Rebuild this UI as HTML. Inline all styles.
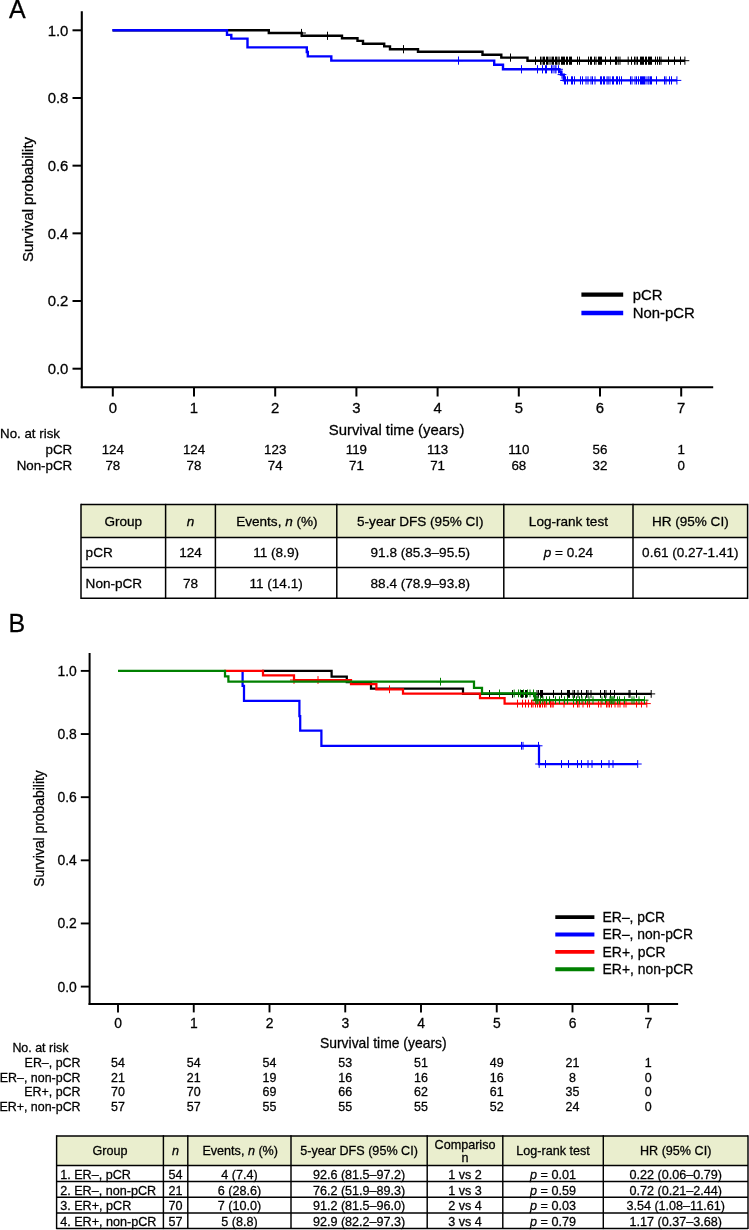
<!DOCTYPE html>
<html><head><meta charset="utf-8"><title>Figure</title>
<style>html,body{margin:0;padding:0;background:#fff}body{width:749px;height:1230px;overflow:hidden;font-family:"Liberation Sans",sans-serif}svg{display:block;will-change:transform}text{stroke:#000;stroke-width:0.28px}</style></head>
<body>
<svg width="749" height="1230" viewBox="0 0 749 1230" font-family="Liberation Sans, sans-serif" fill="#000">
<text x="9.00" y="17.90" font-size="25" text-anchor="start" >A</text>
<line x1="81.80" y1="11.30" x2="81.80" y2="388.25" stroke="#000" stroke-width="2.1" stroke-linecap="butt"/>
<line x1="80.75" y1="387.20" x2="713.20" y2="387.20" stroke="#000" stroke-width="2.1" stroke-linecap="butt"/>
<line x1="72.50" y1="368.70" x2="81.80" y2="368.70" stroke="#000" stroke-width="2.0" stroke-linecap="butt"/>
<text x="68.40" y="374.00" font-size="14.9" text-anchor="end" >0.0</text>
<line x1="72.50" y1="301.02" x2="81.80" y2="301.02" stroke="#000" stroke-width="2.0" stroke-linecap="butt"/>
<text x="68.40" y="306.32" font-size="14.9" text-anchor="end" >0.2</text>
<line x1="72.50" y1="233.34" x2="81.80" y2="233.34" stroke="#000" stroke-width="2.0" stroke-linecap="butt"/>
<text x="68.40" y="238.64" font-size="14.9" text-anchor="end" >0.4</text>
<line x1="72.50" y1="165.66" x2="81.80" y2="165.66" stroke="#000" stroke-width="2.0" stroke-linecap="butt"/>
<text x="68.40" y="170.96" font-size="14.9" text-anchor="end" >0.6</text>
<line x1="72.50" y1="97.98" x2="81.80" y2="97.98" stroke="#000" stroke-width="2.0" stroke-linecap="butt"/>
<text x="68.40" y="103.28" font-size="14.9" text-anchor="end" >0.8</text>
<line x1="72.50" y1="30.30" x2="81.80" y2="30.30" stroke="#000" stroke-width="2.0" stroke-linecap="butt"/>
<text x="68.40" y="35.60" font-size="14.9" text-anchor="end" >1.0</text>
<line x1="112.80" y1="387.20" x2="112.80" y2="396.50" stroke="#000" stroke-width="2.0" stroke-linecap="butt"/>
<text x="112.80" y="413.20" font-size="14.9" text-anchor="middle" >0</text>
<line x1="194.00" y1="387.20" x2="194.00" y2="396.50" stroke="#000" stroke-width="2.0" stroke-linecap="butt"/>
<text x="194.00" y="413.20" font-size="14.9" text-anchor="middle" >1</text>
<line x1="275.20" y1="387.20" x2="275.20" y2="396.50" stroke="#000" stroke-width="2.0" stroke-linecap="butt"/>
<text x="275.20" y="413.20" font-size="14.9" text-anchor="middle" >2</text>
<line x1="356.40" y1="387.20" x2="356.40" y2="396.50" stroke="#000" stroke-width="2.0" stroke-linecap="butt"/>
<text x="356.40" y="413.20" font-size="14.9" text-anchor="middle" >3</text>
<line x1="437.60" y1="387.20" x2="437.60" y2="396.50" stroke="#000" stroke-width="2.0" stroke-linecap="butt"/>
<text x="437.60" y="413.20" font-size="14.9" text-anchor="middle" >4</text>
<line x1="518.80" y1="387.20" x2="518.80" y2="396.50" stroke="#000" stroke-width="2.0" stroke-linecap="butt"/>
<text x="518.80" y="413.20" font-size="14.9" text-anchor="middle" >5</text>
<line x1="600.00" y1="387.20" x2="600.00" y2="396.50" stroke="#000" stroke-width="2.0" stroke-linecap="butt"/>
<text x="600.00" y="413.20" font-size="14.9" text-anchor="middle" >6</text>
<line x1="681.20" y1="387.20" x2="681.20" y2="396.50" stroke="#000" stroke-width="2.0" stroke-linecap="butt"/>
<text x="681.20" y="413.20" font-size="14.9" text-anchor="middle" >7</text>
<text x="396.60" y="434.60" font-size="14.9" text-anchor="middle" >Survival time (years)</text>
<text transform="translate(33.4,199.5) rotate(-90)" font-size="14.9" text-anchor="middle">Survival probability</text>
<text x="0.00" y="437.60" font-size="13.33" text-anchor="start" >No. at risk</text>
<text x="72.20" y="454.20" font-size="13.33" text-anchor="end" >pCR</text>
<text x="72.20" y="470.00" font-size="13.33" text-anchor="end" >Non-pCR</text>
<text x="112.80" y="454.20" font-size="13.33" text-anchor="middle" >124</text>
<text x="112.80" y="470.00" font-size="13.33" text-anchor="middle" >78</text>
<text x="194.00" y="454.20" font-size="13.33" text-anchor="middle" >124</text>
<text x="194.00" y="470.00" font-size="13.33" text-anchor="middle" >78</text>
<text x="275.20" y="454.20" font-size="13.33" text-anchor="middle" >123</text>
<text x="275.20" y="470.00" font-size="13.33" text-anchor="middle" >74</text>
<text x="356.40" y="454.20" font-size="13.33" text-anchor="middle" >119</text>
<text x="356.40" y="470.00" font-size="13.33" text-anchor="middle" >71</text>
<text x="437.60" y="454.20" font-size="13.33" text-anchor="middle" >113</text>
<text x="437.60" y="470.00" font-size="13.33" text-anchor="middle" >71</text>
<text x="518.80" y="454.20" font-size="13.33" text-anchor="middle" >110</text>
<text x="518.80" y="470.00" font-size="13.33" text-anchor="middle" >68</text>
<text x="600.00" y="454.20" font-size="13.33" text-anchor="middle" >56</text>
<text x="600.00" y="470.00" font-size="13.33" text-anchor="middle" >32</text>
<text x="681.20" y="454.20" font-size="13.33" text-anchor="middle" >1</text>
<text x="681.20" y="470.00" font-size="13.33" text-anchor="middle" >0</text>
<path d="M112.50,30.30 H268.80 V33.00 H301.70 V35.80 H342.00 V38.30 H357.50 V40.90 H363.00 V43.70 H384.20 V46.40 H390.00 V49.20 H418.00 V51.80 H482.50 V54.70 H501.30 V57.60 H527.50 V60.70 H684.90" fill="none" stroke="#000" stroke-width="2.4" stroke-linejoin="miter"/>
<path d="M301.50,28.90V37.10M297.10,33.00H305.90" stroke="#000" stroke-width="1.0" fill="none"/>
<path d="M327.50,31.70V39.90M323.10,35.80H331.90" stroke="#000" stroke-width="1.0" fill="none"/>
<path d="M403.50,45.10V53.30M399.10,49.20H407.90" stroke="#000" stroke-width="1.0" fill="none"/>
<path d="M510.50,53.50V61.70M506.10,57.60H514.90" stroke="#000" stroke-width="1.0" fill="none"/>
<path d="M535.50,56.60V64.80M531.10,60.70H539.90" stroke="#000" stroke-width="1.0" fill="none"/>
<path d="M540.50,56.60V64.80M536.10,60.70H544.90" stroke="#000" stroke-width="1.0" fill="none"/>
<path d="M542.00,56.60V64.80M537.60,60.70H546.40" stroke="#000" stroke-width="1.0" fill="none"/>
<path d="M543.50,56.60V64.80M539.10,60.70H547.90" stroke="#000" stroke-width="1.0" fill="none"/>
<path d="M544.50,56.60V64.80M540.10,60.70H548.90" stroke="#000" stroke-width="1.0" fill="none"/>
<path d="M546.50,56.60V64.80M542.10,60.70H550.90" stroke="#000" stroke-width="1.0" fill="none"/>
<path d="M547.50,56.60V64.80M543.10,60.70H551.90" stroke="#000" stroke-width="1.0" fill="none"/>
<path d="M549.00,56.60V64.80M544.60,60.70H553.40" stroke="#000" stroke-width="1.0" fill="none"/>
<path d="M551.00,56.60V64.80M546.60,60.70H555.40" stroke="#000" stroke-width="1.0" fill="none"/>
<path d="M552.50,56.60V64.80M548.10,60.70H556.90" stroke="#000" stroke-width="1.0" fill="none"/>
<path d="M553.50,56.60V64.80M549.10,60.70H557.90" stroke="#000" stroke-width="1.0" fill="none"/>
<path d="M555.50,56.60V64.80M551.10,60.70H559.90" stroke="#000" stroke-width="1.0" fill="none"/>
<path d="M556.50,56.60V64.80M552.10,60.70H560.90" stroke="#000" stroke-width="1.0" fill="none"/>
<path d="M558.00,56.60V64.80M553.60,60.70H562.40" stroke="#000" stroke-width="1.0" fill="none"/>
<path d="M559.20,56.60V64.80M554.80,60.70H563.60" stroke="#000" stroke-width="1.0" fill="none"/>
<path d="M561.50,56.60V64.80M557.10,60.70H565.90" stroke="#000" stroke-width="1.0" fill="none"/>
<path d="M562.50,56.60V64.80M558.10,60.70H566.90" stroke="#000" stroke-width="1.0" fill="none"/>
<path d="M563.50,56.60V64.80M559.10,60.70H567.90" stroke="#000" stroke-width="1.0" fill="none"/>
<path d="M564.50,56.60V64.80M560.10,60.70H568.90" stroke="#000" stroke-width="1.0" fill="none"/>
<path d="M566.50,56.60V64.80M562.10,60.70H570.90" stroke="#000" stroke-width="1.0" fill="none"/>
<path d="M567.50,56.60V64.80M563.10,60.70H571.90" stroke="#000" stroke-width="1.0" fill="none"/>
<path d="M569.50,56.60V64.80M565.10,60.70H573.90" stroke="#000" stroke-width="1.0" fill="none"/>
<path d="M570.50,56.60V64.80M566.10,60.70H574.90" stroke="#000" stroke-width="1.0" fill="none"/>
<path d="M571.50,56.60V64.80M567.10,60.70H575.90" stroke="#000" stroke-width="1.0" fill="none"/>
<path d="M577.50,56.60V64.80M573.10,60.70H581.90" stroke="#000" stroke-width="1.0" fill="none"/>
<path d="M579.50,56.60V64.80M575.10,60.70H583.90" stroke="#000" stroke-width="1.0" fill="none"/>
<path d="M588.50,56.60V64.80M584.10,60.70H592.90" stroke="#000" stroke-width="1.0" fill="none"/>
<path d="M590.50,56.60V64.80M586.10,60.70H594.90" stroke="#000" stroke-width="1.0" fill="none"/>
<path d="M591.50,56.60V64.80M587.10,60.70H595.90" stroke="#000" stroke-width="1.0" fill="none"/>
<path d="M594.50,56.60V64.80M590.10,60.70H598.90" stroke="#000" stroke-width="1.0" fill="none"/>
<path d="M596.00,56.60V64.80M591.60,60.70H600.40" stroke="#000" stroke-width="1.0" fill="none"/>
<path d="M598.50,56.60V64.80M594.10,60.70H602.90" stroke="#000" stroke-width="1.0" fill="none"/>
<path d="M599.50,56.60V64.80M595.10,60.70H603.90" stroke="#000" stroke-width="1.0" fill="none"/>
<path d="M600.50,56.60V64.80M596.10,60.70H604.90" stroke="#000" stroke-width="1.0" fill="none"/>
<path d="M601.50,56.60V64.80M597.10,60.70H605.90" stroke="#000" stroke-width="1.0" fill="none"/>
<path d="M605.50,56.60V64.80M601.10,60.70H609.90" stroke="#000" stroke-width="1.0" fill="none"/>
<path d="M610.50,56.60V64.80M606.10,60.70H614.90" stroke="#000" stroke-width="1.0" fill="none"/>
<path d="M615.50,56.60V64.80M611.10,60.70H619.90" stroke="#000" stroke-width="1.0" fill="none"/>
<path d="M616.50,56.60V64.80M612.10,60.70H620.90" stroke="#000" stroke-width="1.0" fill="none"/>
<path d="M618.20,56.60V64.80M613.80,60.70H622.60" stroke="#000" stroke-width="1.0" fill="none"/>
<path d="M620.00,56.60V64.80M615.60,60.70H624.40" stroke="#000" stroke-width="1.0" fill="none"/>
<path d="M628.20,56.60V64.80M623.80,60.70H632.60" stroke="#000" stroke-width="1.0" fill="none"/>
<path d="M631.50,56.60V64.80M627.10,60.70H635.90" stroke="#000" stroke-width="1.0" fill="none"/>
<path d="M634.50,56.60V64.80M630.10,60.70H638.90" stroke="#000" stroke-width="1.0" fill="none"/>
<path d="M636.00,56.60V64.80M631.60,60.70H640.40" stroke="#000" stroke-width="1.0" fill="none"/>
<path d="M637.50,56.60V64.80M633.10,60.70H641.90" stroke="#000" stroke-width="1.0" fill="none"/>
<path d="M640.50,56.60V64.80M636.10,60.70H644.90" stroke="#000" stroke-width="1.0" fill="none"/>
<path d="M641.50,56.60V64.80M637.10,60.70H645.90" stroke="#000" stroke-width="1.0" fill="none"/>
<path d="M642.50,56.60V64.80M638.10,60.70H646.90" stroke="#000" stroke-width="1.0" fill="none"/>
<path d="M643.50,56.60V64.80M639.10,60.70H647.90" stroke="#000" stroke-width="1.0" fill="none"/>
<path d="M645.50,56.60V64.80M641.10,60.70H649.90" stroke="#000" stroke-width="1.0" fill="none"/>
<path d="M646.50,56.60V64.80M642.10,60.70H650.90" stroke="#000" stroke-width="1.0" fill="none"/>
<path d="M648.50,56.60V64.80M644.10,60.70H652.90" stroke="#000" stroke-width="1.0" fill="none"/>
<path d="M649.50,56.60V64.80M645.10,60.70H653.90" stroke="#000" stroke-width="1.0" fill="none"/>
<path d="M650.50,56.60V64.80M646.10,60.70H654.90" stroke="#000" stroke-width="1.0" fill="none"/>
<path d="M651.50,56.60V64.80M647.10,60.70H655.90" stroke="#000" stroke-width="1.0" fill="none"/>
<path d="M655.50,56.60V64.80M651.10,60.70H659.90" stroke="#000" stroke-width="1.0" fill="none"/>
<path d="M657.50,56.60V64.80M653.10,60.70H661.90" stroke="#000" stroke-width="1.0" fill="none"/>
<path d="M659.50,56.60V64.80M655.10,60.70H663.90" stroke="#000" stroke-width="1.0" fill="none"/>
<path d="M661.00,56.60V64.80M656.60,60.70H665.40" stroke="#000" stroke-width="1.0" fill="none"/>
<path d="M668.50,56.60V64.80M664.10,60.70H672.90" stroke="#000" stroke-width="1.0" fill="none"/>
<path d="M674.50,56.60V64.80M670.10,60.70H678.90" stroke="#000" stroke-width="1.0" fill="none"/>
<path d="M680.50,56.60V64.80M676.10,60.70H684.90" stroke="#000" stroke-width="1.0" fill="none"/>
<path d="M684.90,56.60V64.80M680.50,60.70H689.30" stroke="#000" stroke-width="1.0" fill="none"/>
<path d="M112.50,30.30 H227.00 V34.90 H231.30 V38.60 H247.50 V47.40 H306.80 V52.00 H307.80 V56.40 H331.30 V60.60 H494.20 V64.80 H503.00 V69.30 H559.40 V71.80 H561.00 V74.60 H563.80 V80.40 H676.90" fill="none" stroke="#0000ff" stroke-width="2.4" stroke-linejoin="miter"/>
<path d="M458.50,56.50V64.70M454.10,60.60H462.90" stroke="#0000ff" stroke-width="1.0" fill="none"/>
<path d="M521.50,65.20V73.40M517.10,69.30H525.90" stroke="#0000ff" stroke-width="1.0" fill="none"/>
<path d="M537.50,65.20V73.40M533.10,69.30H541.90" stroke="#0000ff" stroke-width="1.0" fill="none"/>
<path d="M542.50,65.20V73.40M538.10,69.30H546.90" stroke="#0000ff" stroke-width="1.0" fill="none"/>
<path d="M545.50,65.20V73.40M541.10,69.30H549.90" stroke="#0000ff" stroke-width="1.0" fill="none"/>
<path d="M546.50,65.20V73.40M542.10,69.30H550.90" stroke="#0000ff" stroke-width="1.0" fill="none"/>
<path d="M551.50,65.20V73.40M547.10,69.30H555.90" stroke="#0000ff" stroke-width="1.0" fill="none"/>
<path d="M553.00,65.20V73.40M548.60,69.30H557.40" stroke="#0000ff" stroke-width="1.0" fill="none"/>
<path d="M555.00,65.20V73.40M550.60,69.30H559.40" stroke="#0000ff" stroke-width="1.0" fill="none"/>
<path d="M556.00,65.20V73.40M551.60,69.30H560.40" stroke="#0000ff" stroke-width="1.0" fill="none"/>
<path d="M558.50,65.20V73.40M554.10,69.30H562.90" stroke="#0000ff" stroke-width="1.0" fill="none"/>
<path d="M562.00,70.50V78.70M557.60,74.60H566.40" stroke="#0000ff" stroke-width="1.0" fill="none"/>
<path d="M564.50,76.30V84.50M560.10,80.40H568.90" stroke="#0000ff" stroke-width="1.0" fill="none"/>
<path d="M565.50,76.30V84.50M561.10,80.40H569.90" stroke="#0000ff" stroke-width="1.0" fill="none"/>
<path d="M567.50,76.30V84.50M563.10,80.40H571.90" stroke="#0000ff" stroke-width="1.0" fill="none"/>
<path d="M571.50,76.30V84.50M567.10,80.40H575.90" stroke="#0000ff" stroke-width="1.0" fill="none"/>
<path d="M572.50,76.30V84.50M568.10,80.40H576.90" stroke="#0000ff" stroke-width="1.0" fill="none"/>
<path d="M574.50,76.30V84.50M570.10,80.40H578.90" stroke="#0000ff" stroke-width="1.0" fill="none"/>
<path d="M580.50,76.30V84.50M576.10,80.40H584.90" stroke="#0000ff" stroke-width="1.0" fill="none"/>
<path d="M582.50,76.30V84.50M578.10,80.40H586.90" stroke="#0000ff" stroke-width="1.0" fill="none"/>
<path d="M586.00,76.30V84.50M581.60,80.40H590.40" stroke="#0000ff" stroke-width="1.0" fill="none"/>
<path d="M588.00,76.30V84.50M583.60,80.40H592.40" stroke="#0000ff" stroke-width="1.0" fill="none"/>
<path d="M591.00,76.30V84.50M586.60,80.40H595.40" stroke="#0000ff" stroke-width="1.0" fill="none"/>
<path d="M592.50,76.30V84.50M588.10,80.40H596.90" stroke="#0000ff" stroke-width="1.0" fill="none"/>
<path d="M595.00,76.30V84.50M590.60,80.40H599.40" stroke="#0000ff" stroke-width="1.0" fill="none"/>
<path d="M600.50,76.30V84.50M596.10,80.40H604.90" stroke="#0000ff" stroke-width="1.0" fill="none"/>
<path d="M601.50,76.30V84.50M597.10,80.40H605.90" stroke="#0000ff" stroke-width="1.0" fill="none"/>
<path d="M603.50,76.30V84.50M599.10,80.40H607.90" stroke="#0000ff" stroke-width="1.0" fill="none"/>
<path d="M604.50,76.30V84.50M600.10,80.40H608.90" stroke="#0000ff" stroke-width="1.0" fill="none"/>
<path d="M607.00,76.30V84.50M602.60,80.40H611.40" stroke="#0000ff" stroke-width="1.0" fill="none"/>
<path d="M608.20,76.30V84.50M603.80,80.40H612.60" stroke="#0000ff" stroke-width="1.0" fill="none"/>
<path d="M610.00,76.30V84.50M605.60,80.40H614.40" stroke="#0000ff" stroke-width="1.0" fill="none"/>
<path d="M612.50,76.30V84.50M608.10,80.40H616.90" stroke="#0000ff" stroke-width="1.0" fill="none"/>
<path d="M613.50,76.30V84.50M609.10,80.40H617.90" stroke="#0000ff" stroke-width="1.0" fill="none"/>
<path d="M616.50,76.30V84.50M612.10,80.40H620.90" stroke="#0000ff" stroke-width="1.0" fill="none"/>
<path d="M617.50,76.30V84.50M613.10,80.40H621.90" stroke="#0000ff" stroke-width="1.0" fill="none"/>
<path d="M619.50,76.30V84.50M615.10,80.40H623.90" stroke="#0000ff" stroke-width="1.0" fill="none"/>
<path d="M621.50,76.30V84.50M617.10,80.40H625.90" stroke="#0000ff" stroke-width="1.0" fill="none"/>
<path d="M630.50,76.30V84.50M626.10,80.40H634.90" stroke="#0000ff" stroke-width="1.0" fill="none"/>
<path d="M632.00,76.30V84.50M627.60,80.40H636.40" stroke="#0000ff" stroke-width="1.0" fill="none"/>
<path d="M635.00,76.30V84.50M630.60,80.40H639.40" stroke="#0000ff" stroke-width="1.0" fill="none"/>
<path d="M636.50,76.30V84.50M632.10,80.40H640.90" stroke="#0000ff" stroke-width="1.0" fill="none"/>
<path d="M638.50,76.30V84.50M634.10,80.40H642.90" stroke="#0000ff" stroke-width="1.0" fill="none"/>
<path d="M640.50,76.30V84.50M636.10,80.40H644.90" stroke="#0000ff" stroke-width="1.0" fill="none"/>
<path d="M641.50,76.30V84.50M637.10,80.40H645.90" stroke="#0000ff" stroke-width="1.0" fill="none"/>
<path d="M642.50,76.30V84.50M638.10,80.40H646.90" stroke="#0000ff" stroke-width="1.0" fill="none"/>
<path d="M643.50,76.30V84.50M639.10,80.40H647.90" stroke="#0000ff" stroke-width="1.0" fill="none"/>
<path d="M644.50,76.30V84.50M640.10,80.40H648.90" stroke="#0000ff" stroke-width="1.0" fill="none"/>
<path d="M646.00,76.30V84.50M641.60,80.40H650.40" stroke="#0000ff" stroke-width="1.0" fill="none"/>
<path d="M648.00,76.30V84.50M643.60,80.40H652.40" stroke="#0000ff" stroke-width="1.0" fill="none"/>
<path d="M649.00,76.30V84.50M644.60,80.40H653.40" stroke="#0000ff" stroke-width="1.0" fill="none"/>
<path d="M650.50,76.30V84.50M646.10,80.40H654.90" stroke="#0000ff" stroke-width="1.0" fill="none"/>
<path d="M651.50,76.30V84.50M647.10,80.40H655.90" stroke="#0000ff" stroke-width="1.0" fill="none"/>
<path d="M656.50,76.30V84.50M652.10,80.40H660.90" stroke="#0000ff" stroke-width="1.0" fill="none"/>
<path d="M664.50,76.30V84.50M660.10,80.40H668.90" stroke="#0000ff" stroke-width="1.0" fill="none"/>
<path d="M666.00,76.30V84.50M661.60,80.40H670.40" stroke="#0000ff" stroke-width="1.0" fill="none"/>
<path d="M669.50,76.30V84.50M665.10,80.40H673.90" stroke="#0000ff" stroke-width="1.0" fill="none"/>
<path d="M671.50,76.30V84.50M667.10,80.40H675.90" stroke="#0000ff" stroke-width="1.0" fill="none"/>
<path d="M676.90,76.30V84.50M672.50,80.40H681.30" stroke="#0000ff" stroke-width="1.0" fill="none"/>
<line x1="581.40" y1="294.60" x2="623.20" y2="294.60" stroke="#000" stroke-width="4.3" stroke-linecap="butt"/>
<line x1="581.40" y1="313.00" x2="623.20" y2="313.00" stroke="#0000ff" stroke-width="4.3" stroke-linecap="butt"/>
<text x="632.80" y="299.90" font-size="14.9" text-anchor="start" >pCR</text>
<text x="632.80" y="318.30" font-size="14.9" text-anchor="start" >Non-pCR</text>
<rect x="81.0" y="504.6" width="666.6" height="32.89999999999998" fill="#eaeece"/>
<line x1="81.00" y1="503.85" x2="81.00" y2="599.05" stroke="#000" stroke-width="1.5" stroke-linecap="butt"/>
<line x1="165.60" y1="503.85" x2="165.60" y2="599.05" stroke="#000" stroke-width="1.5" stroke-linecap="butt"/>
<line x1="215.40" y1="503.85" x2="215.40" y2="599.05" stroke="#000" stroke-width="1.5" stroke-linecap="butt"/>
<line x1="336.80" y1="503.85" x2="336.80" y2="599.05" stroke="#000" stroke-width="1.5" stroke-linecap="butt"/>
<line x1="503.80" y1="503.85" x2="503.80" y2="599.05" stroke="#000" stroke-width="1.5" stroke-linecap="butt"/>
<line x1="633.00" y1="503.85" x2="633.00" y2="599.05" stroke="#000" stroke-width="1.5" stroke-linecap="butt"/>
<line x1="747.60" y1="503.85" x2="747.60" y2="599.05" stroke="#000" stroke-width="1.5" stroke-linecap="butt"/>
<line x1="81.00" y1="504.60" x2="747.60" y2="504.60" stroke="#000" stroke-width="1.5" stroke-linecap="butt"/>
<line x1="81.00" y1="537.50" x2="747.60" y2="537.50" stroke="#000" stroke-width="1.5" stroke-linecap="butt"/>
<line x1="81.00" y1="567.60" x2="747.60" y2="567.60" stroke="#000" stroke-width="1.5" stroke-linecap="butt"/>
<line x1="81.00" y1="598.30" x2="747.60" y2="598.30" stroke="#000" stroke-width="1.5" stroke-linecap="butt"/>
<text x="123.30" y="525.90" font-size="13.55" text-anchor="middle" >Group</text>
<text x="190.50" y="525.90" font-size="13.55" text-anchor="middle" ><tspan font-style="italic">n</tspan></text>
<text x="276.90" y="525.90" font-size="13.55" text-anchor="middle" >Events, <tspan font-style="italic">n</tspan> (%)</text>
<text x="420.30" y="525.90" font-size="13.55" text-anchor="middle" >5-year DFS (95% CI)</text>
<text x="568.40" y="525.90" font-size="13.55" text-anchor="middle" >Log-rank test</text>
<text x="690.30" y="525.90" font-size="13.55" text-anchor="middle" >HR (95% CI)</text>
<text x="85.60" y="557.40" font-size="13.55" text-anchor="start" >pCR</text>
<text x="190.50" y="557.40" font-size="13.55" text-anchor="middle" >124</text>
<text x="276.10" y="557.40" font-size="13.55" text-anchor="middle" >11 (8.9)</text>
<text x="420.30" y="557.40" font-size="13.55" text-anchor="middle" >91.8 (85.3–95.5)</text>
<text x="568.40" y="557.40" font-size="13.55" text-anchor="middle" ><tspan font-style="italic">p</tspan> = 0.24</text>
<text x="690.30" y="557.40" font-size="13.55" text-anchor="middle" >0.61 (0.27-1.41)</text>
<text x="85.60" y="587.80" font-size="13.55" text-anchor="start" >Non-pCR</text>
<text x="190.50" y="587.80" font-size="13.55" text-anchor="middle" >78</text>
<text x="276.10" y="587.80" font-size="13.55" text-anchor="middle" >11 (14.1)</text>
<text x="420.30" y="587.80" font-size="13.55" text-anchor="middle" >88.4 (78.9–93.8)</text>
<text x="8.60" y="631.70" font-size="25" text-anchor="start" >B</text>
<line x1="89.60" y1="653.00" x2="89.60" y2="1005.00" stroke="#000" stroke-width="2.0" stroke-linecap="butt"/>
<line x1="88.60" y1="1004.00" x2="678.10" y2="1004.00" stroke="#000" stroke-width="2.0" stroke-linecap="butt"/>
<line x1="80.80" y1="986.60" x2="89.60" y2="986.60" stroke="#000" stroke-width="1.9" stroke-linecap="butt"/>
<text x="76.80" y="991.50" font-size="13.9" text-anchor="end" >0.0</text>
<line x1="80.80" y1="923.46" x2="89.60" y2="923.46" stroke="#000" stroke-width="1.9" stroke-linecap="butt"/>
<text x="76.80" y="928.36" font-size="13.9" text-anchor="end" >0.2</text>
<line x1="80.80" y1="860.32" x2="89.60" y2="860.32" stroke="#000" stroke-width="1.9" stroke-linecap="butt"/>
<text x="76.80" y="865.22" font-size="13.9" text-anchor="end" >0.4</text>
<line x1="80.80" y1="797.18" x2="89.60" y2="797.18" stroke="#000" stroke-width="1.9" stroke-linecap="butt"/>
<text x="76.80" y="802.08" font-size="13.9" text-anchor="end" >0.6</text>
<line x1="80.80" y1="734.04" x2="89.60" y2="734.04" stroke="#000" stroke-width="1.9" stroke-linecap="butt"/>
<text x="76.80" y="738.94" font-size="13.9" text-anchor="end" >0.8</text>
<line x1="80.80" y1="670.90" x2="89.60" y2="670.90" stroke="#000" stroke-width="1.9" stroke-linecap="butt"/>
<text x="76.80" y="675.80" font-size="13.9" text-anchor="end" >1.0</text>
<line x1="118.00" y1="1004.00" x2="118.00" y2="1012.40" stroke="#000" stroke-width="1.9" stroke-linecap="butt"/>
<text x="118.00" y="1028.00" font-size="13.9" text-anchor="middle" >0</text>
<line x1="193.75" y1="1004.00" x2="193.75" y2="1012.40" stroke="#000" stroke-width="1.9" stroke-linecap="butt"/>
<text x="193.75" y="1028.00" font-size="13.9" text-anchor="middle" >1</text>
<line x1="269.50" y1="1004.00" x2="269.50" y2="1012.40" stroke="#000" stroke-width="1.9" stroke-linecap="butt"/>
<text x="269.50" y="1028.00" font-size="13.9" text-anchor="middle" >2</text>
<line x1="345.25" y1="1004.00" x2="345.25" y2="1012.40" stroke="#000" stroke-width="1.9" stroke-linecap="butt"/>
<text x="345.25" y="1028.00" font-size="13.9" text-anchor="middle" >3</text>
<line x1="421.00" y1="1004.00" x2="421.00" y2="1012.40" stroke="#000" stroke-width="1.9" stroke-linecap="butt"/>
<text x="421.00" y="1028.00" font-size="13.9" text-anchor="middle" >4</text>
<line x1="496.75" y1="1004.00" x2="496.75" y2="1012.40" stroke="#000" stroke-width="1.9" stroke-linecap="butt"/>
<text x="496.75" y="1028.00" font-size="13.9" text-anchor="middle" >5</text>
<line x1="572.50" y1="1004.00" x2="572.50" y2="1012.40" stroke="#000" stroke-width="1.9" stroke-linecap="butt"/>
<text x="572.50" y="1028.00" font-size="13.9" text-anchor="middle" >6</text>
<line x1="648.25" y1="1004.00" x2="648.25" y2="1012.40" stroke="#000" stroke-width="1.9" stroke-linecap="butt"/>
<text x="648.25" y="1028.00" font-size="13.9" text-anchor="middle" >7</text>
<text x="383.30" y="1048.20" font-size="13.9" text-anchor="middle" >Survival time (years)</text>
<text transform="translate(44.1,828.5) rotate(-90)" font-size="13.9" text-anchor="middle">Survival probability</text>
<text x="12.40" y="1051.80" font-size="12.45" text-anchor="start" >No. at risk</text>
<text x="80.60" y="1066.70" font-size="12.45" text-anchor="end" >ER–, pCR</text>
<text x="118.00" y="1066.70" font-size="12.45" text-anchor="middle" >54</text>
<text x="193.75" y="1066.70" font-size="12.45" text-anchor="middle" >54</text>
<text x="269.50" y="1066.70" font-size="12.45" text-anchor="middle" >54</text>
<text x="345.25" y="1066.70" font-size="12.45" text-anchor="middle" >53</text>
<text x="421.00" y="1066.70" font-size="12.45" text-anchor="middle" >51</text>
<text x="496.75" y="1066.70" font-size="12.45" text-anchor="middle" >49</text>
<text x="572.50" y="1066.70" font-size="12.45" text-anchor="middle" >21</text>
<text x="648.25" y="1066.70" font-size="12.45" text-anchor="middle" >1</text>
<text x="80.60" y="1081.50" font-size="12.45" text-anchor="end" >ER–, non-pCR</text>
<text x="118.00" y="1081.50" font-size="12.45" text-anchor="middle" >21</text>
<text x="193.75" y="1081.50" font-size="12.45" text-anchor="middle" >21</text>
<text x="269.50" y="1081.50" font-size="12.45" text-anchor="middle" >19</text>
<text x="345.25" y="1081.50" font-size="12.45" text-anchor="middle" >16</text>
<text x="421.00" y="1081.50" font-size="12.45" text-anchor="middle" >16</text>
<text x="496.75" y="1081.50" font-size="12.45" text-anchor="middle" >16</text>
<text x="572.50" y="1081.50" font-size="12.45" text-anchor="middle" >8</text>
<text x="648.25" y="1081.50" font-size="12.45" text-anchor="middle" >0</text>
<text x="80.60" y="1096.20" font-size="12.45" text-anchor="end" >ER+, pCR</text>
<text x="118.00" y="1096.20" font-size="12.45" text-anchor="middle" >70</text>
<text x="193.75" y="1096.20" font-size="12.45" text-anchor="middle" >70</text>
<text x="269.50" y="1096.20" font-size="12.45" text-anchor="middle" >69</text>
<text x="345.25" y="1096.20" font-size="12.45" text-anchor="middle" >66</text>
<text x="421.00" y="1096.20" font-size="12.45" text-anchor="middle" >62</text>
<text x="496.75" y="1096.20" font-size="12.45" text-anchor="middle" >61</text>
<text x="572.50" y="1096.20" font-size="12.45" text-anchor="middle" >35</text>
<text x="648.25" y="1096.20" font-size="12.45" text-anchor="middle" >0</text>
<text x="80.60" y="1111.00" font-size="12.45" text-anchor="end" >ER+, non-pCR</text>
<text x="118.00" y="1111.00" font-size="12.45" text-anchor="middle" >57</text>
<text x="193.75" y="1111.00" font-size="12.45" text-anchor="middle" >57</text>
<text x="269.50" y="1111.00" font-size="12.45" text-anchor="middle" >55</text>
<text x="345.25" y="1111.00" font-size="12.45" text-anchor="middle" >55</text>
<text x="421.00" y="1111.00" font-size="12.45" text-anchor="middle" >55</text>
<text x="496.75" y="1111.00" font-size="12.45" text-anchor="middle" >52</text>
<text x="572.50" y="1111.00" font-size="12.45" text-anchor="middle" >24</text>
<text x="648.25" y="1111.00" font-size="12.45" text-anchor="middle" >0</text>
<path d="M262.00,670.90 H331.60 V676.70 H346.80 V682.10 H371.00 V688.50 H463.00 V693.90 H651.20" fill="none" stroke="#000" stroke-width="2.25" stroke-linejoin="miter"/>
<path d="M489.50,690.00V697.80M485.50,693.90H493.50" stroke="#000" stroke-width="1.0" fill="none"/>
<path d="M512.50,690.00V697.80M508.50,693.90H516.50" stroke="#000" stroke-width="1.0" fill="none"/>
<path d="M521.50,690.00V697.80M517.50,693.90H525.50" stroke="#000" stroke-width="1.0" fill="none"/>
<path d="M522.50,690.00V697.80M518.50,693.90H526.50" stroke="#000" stroke-width="1.0" fill="none"/>
<path d="M525.50,690.00V697.80M521.50,693.90H529.50" stroke="#000" stroke-width="1.0" fill="none"/>
<path d="M526.50,690.00V697.80M522.50,693.90H530.50" stroke="#000" stroke-width="1.0" fill="none"/>
<path d="M537.00,690.00V697.80M533.00,693.90H541.00" stroke="#000" stroke-width="1.0" fill="none"/>
<path d="M538.50,690.00V697.80M534.50,693.90H542.50" stroke="#000" stroke-width="1.0" fill="none"/>
<path d="M540.50,690.00V697.80M536.50,693.90H544.50" stroke="#000" stroke-width="1.0" fill="none"/>
<path d="M541.50,690.00V697.80M537.50,693.90H545.50" stroke="#000" stroke-width="1.0" fill="none"/>
<path d="M542.50,690.00V697.80M538.50,693.90H546.50" stroke="#000" stroke-width="1.0" fill="none"/>
<path d="M553.50,690.00V697.80M549.50,693.90H557.50" stroke="#000" stroke-width="1.0" fill="none"/>
<path d="M561.50,690.00V697.80M557.50,693.90H565.50" stroke="#000" stroke-width="1.0" fill="none"/>
<path d="M567.50,690.00V697.80M563.50,693.90H571.50" stroke="#000" stroke-width="1.0" fill="none"/>
<path d="M568.50,690.00V697.80M564.50,693.90H572.50" stroke="#000" stroke-width="1.0" fill="none"/>
<path d="M569.50,690.00V697.80M565.50,693.90H573.50" stroke="#000" stroke-width="1.0" fill="none"/>
<path d="M573.00,690.00V697.80M569.00,693.90H577.00" stroke="#000" stroke-width="1.0" fill="none"/>
<path d="M574.50,690.00V697.80M570.50,693.90H578.50" stroke="#000" stroke-width="1.0" fill="none"/>
<path d="M578.00,690.00V697.80M574.00,693.90H582.00" stroke="#000" stroke-width="1.0" fill="none"/>
<path d="M581.50,690.00V697.80M577.50,693.90H585.50" stroke="#000" stroke-width="1.0" fill="none"/>
<path d="M586.50,690.00V697.80M582.50,693.90H590.50" stroke="#000" stroke-width="1.0" fill="none"/>
<path d="M588.00,690.00V697.80M584.00,693.90H592.00" stroke="#000" stroke-width="1.0" fill="none"/>
<path d="M591.00,690.00V697.80M587.00,693.90H595.00" stroke="#000" stroke-width="1.0" fill="none"/>
<path d="M600.50,690.00V697.80M596.50,693.90H604.50" stroke="#000" stroke-width="1.0" fill="none"/>
<path d="M604.50,690.00V697.80M600.50,693.90H608.50" stroke="#000" stroke-width="1.0" fill="none"/>
<path d="M606.00,690.00V697.80M602.00,693.90H610.00" stroke="#000" stroke-width="1.0" fill="none"/>
<path d="M610.50,690.00V697.80M606.50,693.90H614.50" stroke="#000" stroke-width="1.0" fill="none"/>
<path d="M614.50,690.00V697.80M610.50,693.90H618.50" stroke="#000" stroke-width="1.0" fill="none"/>
<path d="M629.00,690.00V697.80M625.00,693.90H633.00" stroke="#000" stroke-width="1.0" fill="none"/>
<path d="M630.00,690.00V697.80M626.00,693.90H634.00" stroke="#000" stroke-width="1.0" fill="none"/>
<path d="M636.50,690.00V697.80M632.50,693.90H640.50" stroke="#000" stroke-width="1.0" fill="none"/>
<path d="M651.20,690.00V697.80M647.20,693.90H655.20" stroke="#000" stroke-width="1.0" fill="none"/>
<path d="M242.6,670.9 V685.9 H244 V700.9 H299.4 V716 H300.2 V730.7 H321.4 V745.8 H539 V764 H637.7" fill="none" stroke="#0000ff" stroke-width="2.25"/>
<path d="M521.50,741.90V749.70M517.50,745.80H525.50" stroke="#0000ff" stroke-width="1.0" fill="none"/>
<path d="M523.00,741.90V749.70M519.00,745.80H527.00" stroke="#0000ff" stroke-width="1.0" fill="none"/>
<path d="M538.50,741.90V749.70M534.50,745.80H542.50" stroke="#0000ff" stroke-width="1.0" fill="none"/>
<path d="M539.20,760.10V767.90M535.20,764.00H543.20" stroke="#0000ff" stroke-width="1.0" fill="none"/>
<path d="M545.50,760.10V767.90M541.50,764.00H549.50" stroke="#0000ff" stroke-width="1.0" fill="none"/>
<path d="M561.50,760.10V767.90M557.50,764.00H565.50" stroke="#0000ff" stroke-width="1.0" fill="none"/>
<path d="M568.50,760.10V767.90M564.50,764.00H572.50" stroke="#0000ff" stroke-width="1.0" fill="none"/>
<path d="M577.50,760.10V767.90M573.50,764.00H581.50" stroke="#0000ff" stroke-width="1.0" fill="none"/>
<path d="M581.50,760.10V767.90M577.50,764.00H585.50" stroke="#0000ff" stroke-width="1.0" fill="none"/>
<path d="M588.00,760.10V767.90M584.00,764.00H592.00" stroke="#0000ff" stroke-width="1.0" fill="none"/>
<path d="M592.00,760.10V767.90M588.00,764.00H596.00" stroke="#0000ff" stroke-width="1.0" fill="none"/>
<path d="M601.50,760.10V767.90M597.50,764.00H605.50" stroke="#0000ff" stroke-width="1.0" fill="none"/>
<path d="M609.00,760.10V767.90M605.00,764.00H613.00" stroke="#0000ff" stroke-width="1.0" fill="none"/>
<path d="M613.00,760.10V767.90M609.00,764.00H617.00" stroke="#0000ff" stroke-width="1.0" fill="none"/>
<path d="M637.70,760.10V767.90M633.70,764.00H641.70" stroke="#0000ff" stroke-width="1.0" fill="none"/>
<path d="M224.00,670.90 H263.00 V675.40 H294.00 V680.00 H351.00 V684.20 H376.40 V689.30 H403.00 V693.50 H480.00 V698.20 H504.60 V703.60 H646.80" fill="none" stroke="#ff0000" stroke-width="2.25" stroke-linejoin="miter"/>
<path d="M294.00,676.10V683.90M290.00,680.00H298.00" stroke="#ff0000" stroke-width="1.0" fill="none"/>
<path d="M318.00,676.10V683.90M314.00,680.00H322.00" stroke="#ff0000" stroke-width="1.0" fill="none"/>
<path d="M389.50,685.40V693.20M385.50,689.30H393.50" stroke="#ff0000" stroke-width="1.0" fill="none"/>
<path d="M517.50,699.70V707.50M513.50,703.60H521.50" stroke="#ff0000" stroke-width="1.0" fill="none"/>
<path d="M522.50,699.70V707.50M518.50,703.60H526.50" stroke="#ff0000" stroke-width="1.0" fill="none"/>
<path d="M525.50,699.70V707.50M521.50,703.60H529.50" stroke="#ff0000" stroke-width="1.0" fill="none"/>
<path d="M528.50,699.70V707.50M524.50,703.60H532.50" stroke="#ff0000" stroke-width="1.0" fill="none"/>
<path d="M531.50,699.70V707.50M527.50,703.60H535.50" stroke="#ff0000" stroke-width="1.0" fill="none"/>
<path d="M533.00,699.70V707.50M529.00,703.60H537.00" stroke="#ff0000" stroke-width="1.0" fill="none"/>
<path d="M535.50,699.70V707.50M531.50,703.60H539.50" stroke="#ff0000" stroke-width="1.0" fill="none"/>
<path d="M537.50,699.70V707.50M533.50,703.60H541.50" stroke="#ff0000" stroke-width="1.0" fill="none"/>
<path d="M539.50,699.70V707.50M535.50,703.60H543.50" stroke="#ff0000" stroke-width="1.0" fill="none"/>
<path d="M540.50,699.70V707.50M536.50,703.60H544.50" stroke="#ff0000" stroke-width="1.0" fill="none"/>
<path d="M542.50,699.70V707.50M538.50,703.60H546.50" stroke="#ff0000" stroke-width="1.0" fill="none"/>
<path d="M544.50,699.70V707.50M540.50,703.60H548.50" stroke="#ff0000" stroke-width="1.0" fill="none"/>
<path d="M546.00,699.70V707.50M542.00,703.60H550.00" stroke="#ff0000" stroke-width="1.0" fill="none"/>
<path d="M550.50,699.70V707.50M546.50,703.60H554.50" stroke="#ff0000" stroke-width="1.0" fill="none"/>
<path d="M552.00,699.70V707.50M548.00,703.60H556.00" stroke="#ff0000" stroke-width="1.0" fill="none"/>
<path d="M553.20,699.70V707.50M549.20,703.60H557.20" stroke="#ff0000" stroke-width="1.0" fill="none"/>
<path d="M564.00,699.70V707.50M560.00,703.60H568.00" stroke="#ff0000" stroke-width="1.0" fill="none"/>
<path d="M573.50,699.70V707.50M569.50,703.60H577.50" stroke="#ff0000" stroke-width="1.0" fill="none"/>
<path d="M577.50,699.70V707.50M573.50,703.60H581.50" stroke="#ff0000" stroke-width="1.0" fill="none"/>
<path d="M579.00,699.70V707.50M575.00,703.60H583.00" stroke="#ff0000" stroke-width="1.0" fill="none"/>
<path d="M583.00,699.70V707.50M579.00,703.60H587.00" stroke="#ff0000" stroke-width="1.0" fill="none"/>
<path d="M587.50,699.70V707.50M583.50,703.60H591.50" stroke="#ff0000" stroke-width="1.0" fill="none"/>
<path d="M589.50,699.70V707.50M585.50,703.60H593.50" stroke="#ff0000" stroke-width="1.0" fill="none"/>
<path d="M598.50,699.70V707.50M594.50,703.60H602.50" stroke="#ff0000" stroke-width="1.0" fill="none"/>
<path d="M601.00,699.70V707.50M597.00,703.60H605.00" stroke="#ff0000" stroke-width="1.0" fill="none"/>
<path d="M606.50,699.70V707.50M602.50,703.60H610.50" stroke="#ff0000" stroke-width="1.0" fill="none"/>
<path d="M608.00,699.70V707.50M604.00,703.60H612.00" stroke="#ff0000" stroke-width="1.0" fill="none"/>
<path d="M609.50,699.70V707.50M605.50,703.60H613.50" stroke="#ff0000" stroke-width="1.0" fill="none"/>
<path d="M611.50,699.70V707.50M607.50,703.60H615.50" stroke="#ff0000" stroke-width="1.0" fill="none"/>
<path d="M615.00,699.70V707.50M611.00,703.60H619.00" stroke="#ff0000" stroke-width="1.0" fill="none"/>
<path d="M618.00,699.70V707.50M614.00,703.60H622.00" stroke="#ff0000" stroke-width="1.0" fill="none"/>
<path d="M620.00,699.70V707.50M616.00,703.60H624.00" stroke="#ff0000" stroke-width="1.0" fill="none"/>
<path d="M624.00,699.70V707.50M620.00,703.60H628.00" stroke="#ff0000" stroke-width="1.0" fill="none"/>
<path d="M626.00,699.70V707.50M622.00,703.60H630.00" stroke="#ff0000" stroke-width="1.0" fill="none"/>
<path d="M636.50,699.70V707.50M632.50,703.60H640.50" stroke="#ff0000" stroke-width="1.0" fill="none"/>
<path d="M641.50,699.70V707.50M637.50,703.60H645.50" stroke="#ff0000" stroke-width="1.0" fill="none"/>
<path d="M646.80,699.70V707.50M642.80,703.60H650.80" stroke="#ff0000" stroke-width="1.0" fill="none"/>
<path d="M118.00,670.90 H225.00 V676.40 H228.40 V681.70 H474.00 V687.80 H482.00 V693.40 H535.00 V700.20 H644.50" fill="none" stroke="#008000" stroke-width="2.25" stroke-linejoin="miter"/>
<path d="M440.50,677.80V685.60M436.50,681.70H444.50" stroke="#008000" stroke-width="1.0" fill="none"/>
<path d="M499.50,689.50V697.30M495.50,693.40H503.50" stroke="#008000" stroke-width="1.0" fill="none"/>
<path d="M514.20,689.50V697.30M510.20,693.40H518.20" stroke="#008000" stroke-width="1.0" fill="none"/>
<path d="M518.50,689.50V697.30M514.50,693.40H522.50" stroke="#008000" stroke-width="1.0" fill="none"/>
<path d="M520.50,689.50V697.30M516.50,693.40H524.50" stroke="#008000" stroke-width="1.0" fill="none"/>
<path d="M523.50,689.50V697.30M519.50,693.40H527.50" stroke="#008000" stroke-width="1.0" fill="none"/>
<path d="M527.50,689.50V697.30M523.50,693.40H531.50" stroke="#008000" stroke-width="1.0" fill="none"/>
<path d="M530.00,689.50V697.30M526.00,693.40H534.00" stroke="#008000" stroke-width="1.0" fill="none"/>
<path d="M533.50,689.50V697.30M529.50,693.40H537.50" stroke="#008000" stroke-width="1.0" fill="none"/>
<path d="M536.00,696.30V704.10M532.00,700.20H540.00" stroke="#008000" stroke-width="1.0" fill="none"/>
<path d="M537.00,696.30V704.10M533.00,700.20H541.00" stroke="#008000" stroke-width="1.0" fill="none"/>
<path d="M538.00,696.30V704.10M534.00,700.20H542.00" stroke="#008000" stroke-width="1.0" fill="none"/>
<path d="M540.50,696.30V704.10M536.50,700.20H544.50" stroke="#008000" stroke-width="1.0" fill="none"/>
<path d="M543.00,696.30V704.10M539.00,700.20H547.00" stroke="#008000" stroke-width="1.0" fill="none"/>
<path d="M546.50,696.30V704.10M542.50,700.20H550.50" stroke="#008000" stroke-width="1.0" fill="none"/>
<path d="M549.50,696.30V704.10M545.50,700.20H553.50" stroke="#008000" stroke-width="1.0" fill="none"/>
<path d="M555.50,696.30V704.10M551.50,700.20H559.50" stroke="#008000" stroke-width="1.0" fill="none"/>
<path d="M559.50,696.30V704.10M555.50,700.20H563.50" stroke="#008000" stroke-width="1.0" fill="none"/>
<path d="M564.50,696.30V704.10M560.50,700.20H568.50" stroke="#008000" stroke-width="1.0" fill="none"/>
<path d="M567.50,696.30V704.10M563.50,700.20H571.50" stroke="#008000" stroke-width="1.0" fill="none"/>
<path d="M573.50,696.30V704.10M569.50,700.20H577.50" stroke="#008000" stroke-width="1.0" fill="none"/>
<path d="M576.50,696.30V704.10M572.50,700.20H580.50" stroke="#008000" stroke-width="1.0" fill="none"/>
<path d="M579.50,696.30V704.10M575.50,700.20H583.50" stroke="#008000" stroke-width="1.0" fill="none"/>
<path d="M582.00,696.30V704.10M578.00,700.20H586.00" stroke="#008000" stroke-width="1.0" fill="none"/>
<path d="M585.50,696.30V704.10M581.50,700.20H589.50" stroke="#008000" stroke-width="1.0" fill="none"/>
<path d="M589.00,696.30V704.10M585.00,700.20H593.00" stroke="#008000" stroke-width="1.0" fill="none"/>
<path d="M593.00,696.30V704.10M589.00,700.20H597.00" stroke="#008000" stroke-width="1.0" fill="none"/>
<path d="M602.00,696.30V704.10M598.00,700.20H606.00" stroke="#008000" stroke-width="1.0" fill="none"/>
<path d="M605.50,696.30V704.10M601.50,700.20H609.50" stroke="#008000" stroke-width="1.0" fill="none"/>
<path d="M610.00,696.30V704.10M606.00,700.20H614.00" stroke="#008000" stroke-width="1.0" fill="none"/>
<path d="M611.00,696.30V704.10M607.00,700.20H615.00" stroke="#008000" stroke-width="1.0" fill="none"/>
<path d="M612.00,696.30V704.10M608.00,700.20H616.00" stroke="#008000" stroke-width="1.0" fill="none"/>
<path d="M613.00,696.30V704.10M609.00,700.20H617.00" stroke="#008000" stroke-width="1.0" fill="none"/>
<path d="M614.00,696.30V704.10M610.00,700.20H618.00" stroke="#008000" stroke-width="1.0" fill="none"/>
<path d="M617.50,696.30V704.10M613.50,700.20H621.50" stroke="#008000" stroke-width="1.0" fill="none"/>
<path d="M619.50,696.30V704.10M615.50,700.20H623.50" stroke="#008000" stroke-width="1.0" fill="none"/>
<path d="M624.50,696.30V704.10M620.50,700.20H628.50" stroke="#008000" stroke-width="1.0" fill="none"/>
<path d="M632.00,696.30V704.10M628.00,700.20H636.00" stroke="#008000" stroke-width="1.0" fill="none"/>
<path d="M634.00,696.30V704.10M630.00,700.20H638.00" stroke="#008000" stroke-width="1.0" fill="none"/>
<path d="M639.00,696.30V704.10M635.00,700.20H643.00" stroke="#008000" stroke-width="1.0" fill="none"/>
<path d="M644.50,696.30V704.10M640.50,700.20H648.50" stroke="#008000" stroke-width="1.0" fill="none"/>
<line x1="555.30" y1="917.10" x2="594.40" y2="917.10" stroke="#000" stroke-width="3.9" stroke-linecap="butt"/>
<text x="602.60" y="922.00" font-size="13.9" text-anchor="start" >ER–, pCR</text>
<line x1="555.30" y1="934.50" x2="594.40" y2="934.50" stroke="#0000ff" stroke-width="3.9" stroke-linecap="butt"/>
<text x="602.60" y="939.40" font-size="13.9" text-anchor="start" >ER–, non-pCR</text>
<line x1="555.30" y1="951.90" x2="594.40" y2="951.90" stroke="#ff0000" stroke-width="3.9" stroke-linecap="butt"/>
<text x="602.60" y="956.80" font-size="13.9" text-anchor="start" >ER+, pCR</text>
<line x1="555.30" y1="969.20" x2="594.40" y2="969.20" stroke="#008000" stroke-width="3.9" stroke-linecap="butt"/>
<text x="602.60" y="974.10" font-size="13.9" text-anchor="start" >ER+, non-pCR</text>
<rect x="56.6" y="1135.9" width="691.4" height="29.5" fill="#eaeece"/>
<line x1="56.60" y1="1135.18" x2="56.60" y2="1229.12" stroke="#000" stroke-width="1.45" stroke-linecap="butt"/>
<line x1="163.40" y1="1135.18" x2="163.40" y2="1229.12" stroke="#000" stroke-width="1.45" stroke-linecap="butt"/>
<line x1="187.80" y1="1135.18" x2="187.80" y2="1229.12" stroke="#000" stroke-width="1.45" stroke-linecap="butt"/>
<line x1="291.00" y1="1135.18" x2="291.00" y2="1229.12" stroke="#000" stroke-width="1.45" stroke-linecap="butt"/>
<line x1="427.20" y1="1135.18" x2="427.20" y2="1229.12" stroke="#000" stroke-width="1.45" stroke-linecap="butt"/>
<line x1="502.80" y1="1135.18" x2="502.80" y2="1229.12" stroke="#000" stroke-width="1.45" stroke-linecap="butt"/>
<line x1="603.30" y1="1135.18" x2="603.30" y2="1229.12" stroke="#000" stroke-width="1.45" stroke-linecap="butt"/>
<line x1="748.00" y1="1135.18" x2="748.00" y2="1229.12" stroke="#000" stroke-width="1.45" stroke-linecap="butt"/>
<line x1="56.60" y1="1135.90" x2="748.00" y2="1135.90" stroke="#000" stroke-width="1.45" stroke-linecap="butt"/>
<line x1="56.60" y1="1165.40" x2="748.00" y2="1165.40" stroke="#000" stroke-width="1.45" stroke-linecap="butt"/>
<line x1="56.60" y1="1181.40" x2="748.00" y2="1181.40" stroke="#000" stroke-width="1.45" stroke-linecap="butt"/>
<line x1="56.60" y1="1197.30" x2="748.00" y2="1197.30" stroke="#000" stroke-width="1.45" stroke-linecap="butt"/>
<line x1="56.60" y1="1213.00" x2="748.00" y2="1213.00" stroke="#000" stroke-width="1.45" stroke-linecap="butt"/>
<line x1="56.60" y1="1228.40" x2="748.00" y2="1228.40" stroke="#000" stroke-width="1.45" stroke-linecap="butt"/>
<text x="110.00" y="1155.16" font-size="12.6" text-anchor="middle" >Group</text>
<text x="175.60" y="1155.16" font-size="12.6" text-anchor="middle" ><tspan font-style="italic">n</tspan></text>
<text x="240.20" y="1155.16" font-size="12.6" text-anchor="middle" >Events, <tspan font-style="italic">n</tspan> (%)</text>
<text x="359.10" y="1155.16" font-size="12.6" text-anchor="middle" >5-year DFS (95% CI)</text>
<text x="465.00" y="1149.00" font-size="12.6" text-anchor="middle" >Compariso</text>
<text x="465.00" y="1162.20" font-size="12.6" text-anchor="middle" >n</text>
<text x="553.05" y="1155.16" font-size="12.6" text-anchor="middle" >Log-rank test</text>
<text x="675.65" y="1155.16" font-size="12.6" text-anchor="middle" >HR (95% CI)</text>
<text x="60.20" y="1178.61" font-size="12.6" text-anchor="start" >1. ER–, pCR</text>
<text x="175.60" y="1178.61" font-size="12.6" text-anchor="middle" >54</text>
<text x="239.40" y="1178.61" font-size="12.6" text-anchor="middle" >4 (7.4)</text>
<text x="359.10" y="1178.61" font-size="12.6" text-anchor="middle" >92.6 (81.5–97.2)</text>
<text x="465.00" y="1178.61" font-size="12.6" text-anchor="middle" >1 vs 2</text>
<text x="553.05" y="1178.61" font-size="12.6" text-anchor="middle" ><tspan font-style="italic">p</tspan> = 0.01</text>
<text x="675.65" y="1178.61" font-size="12.6" text-anchor="middle" >0.22 (0.06–0.79)</text>
<text x="60.20" y="1194.56" font-size="12.6" text-anchor="start" >2. ER–, non-pCR</text>
<text x="175.60" y="1194.56" font-size="12.6" text-anchor="middle" >21</text>
<text x="239.40" y="1194.56" font-size="12.6" text-anchor="middle" >6 (28.6)</text>
<text x="359.10" y="1194.56" font-size="12.6" text-anchor="middle" >76.2 (51.9–89.3)</text>
<text x="465.00" y="1194.56" font-size="12.6" text-anchor="middle" >1 vs 3</text>
<text x="553.05" y="1194.56" font-size="12.6" text-anchor="middle" ><tspan font-style="italic">p</tspan> = 0.59</text>
<text x="675.65" y="1194.56" font-size="12.6" text-anchor="middle" >0.72 (0.21–2.44)</text>
<text x="60.20" y="1210.36" font-size="12.6" text-anchor="start" >3. ER+, pCR</text>
<text x="175.60" y="1210.36" font-size="12.6" text-anchor="middle" >70</text>
<text x="239.40" y="1210.36" font-size="12.6" text-anchor="middle" >7 (10.0)</text>
<text x="359.10" y="1210.36" font-size="12.6" text-anchor="middle" >91.2 (81.5–96.0)</text>
<text x="465.00" y="1210.36" font-size="12.6" text-anchor="middle" >2 vs 4</text>
<text x="553.05" y="1210.36" font-size="12.6" text-anchor="middle" ><tspan font-style="italic">p</tspan> = 0.03</text>
<text x="675.65" y="1210.36" font-size="12.6" text-anchor="middle" >3.54 (1.08–11.61)</text>
<text x="60.20" y="1225.91" font-size="12.6" text-anchor="start" >4. ER+, non-pCR</text>
<text x="175.60" y="1225.91" font-size="12.6" text-anchor="middle" >57</text>
<text x="239.40" y="1225.91" font-size="12.6" text-anchor="middle" >5 (8.8)</text>
<text x="359.10" y="1225.91" font-size="12.6" text-anchor="middle" >92.9 (82.2–97.3)</text>
<text x="465.00" y="1225.91" font-size="12.6" text-anchor="middle" >3 vs 4</text>
<text x="553.05" y="1225.91" font-size="12.6" text-anchor="middle" ><tspan font-style="italic">p</tspan> = 0.79</text>
<text x="675.65" y="1225.91" font-size="12.6" text-anchor="middle" >1.17 (0.37–3.68)</text>
</svg>
</body></html>
